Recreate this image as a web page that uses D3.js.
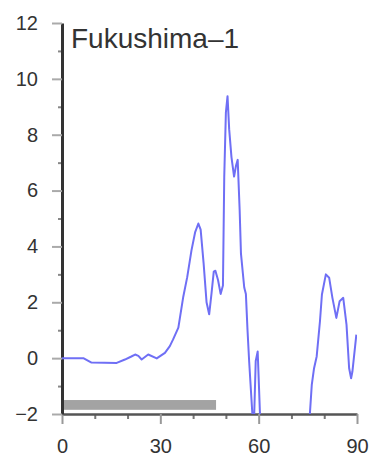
<!DOCTYPE html>
<html>
<head>
<meta charset="utf-8">
<script src="https://cdn.jsdelivr.net/npm/d3@7"></script>
<style>
body { margin: 0; background: #fff; }
svg { font-family: "Liberation Sans", Arial, sans-serif; }
</style>
</head>
<body>
<script>
var w = 372;
var h = 457;

var title = "Fukushima\u20131";

// day, value (null = gap in the record)
var days = [0, 6.5, 9, 16.7, 19.2, 21, 22.3, 23.3, 24.3, 26.3, 28.9, 31.4, 32.9, 33.9,
    35.5, 37, 38.2, 39.5, 40.6, 41.6, 42.3, 43.2, 44.1, 44.9, 45.6, 46.3, 46.8, 47.6,
    48.4, 49.1, 49.5, 50, 50.5, 51, 51.7, 52.5, 53.1, 53.6, 54.2, 54.6, 55.6, 56.1,
    56.6, 57.1, 58.1, 58.5, 59.1, 59.7, 60.4, 60.8, 68,
    75.3, 75.6, 76.2, 76.9, 77.7, 78.7, 79.3, 80.5, 81.5, 82.5, 83.7, 84.7, 85.8,
    86.8, 87.6, 88.2, 88.6, 89.8];
var values = [0, 0, -0.16, -0.17, -0.05, 0.05, 0.13, 0.08, -0.05, 0.13, -0.01, 0.19, 0.43, 0.67,
    1.09, 2.2, 2.9, 3.86, 4.5, 4.82, 4.6, 3.4, 2.0, 1.57, 2.3, 3.1, 3.13, 2.8,
    2.3, 2.6, 6.5, 8.8, 9.38, 8.2, 7.2, 6.5, 6.9, 7.1, 5.3, 3.74, 2.53, 2.3,
    1.0, -0.12, -2.04, -2.6, -0.1, 0.24, -2.0, -2.6, null,
    -2.6, -2.04, -0.96, -0.36, 0.06, 1.32, 2.28, 3.0, 2.88, 2.16, 1.44, 2.04, 2.16,
    1.2, -0.36, -0.72, -0.48, 0.84];

// shaded period near the bottom: [startDay, endDay, low, high]
var period = [0, 47, -1.85, -1.5];

var xTicks = [0, 30, 60, 90];
var xMinor = [10, 20, 40, 50, 70, 80];
var yTicks = [-2, 0, 2, 4, 6, 8, 10, 12];
var yMinor = [-1, 1, 3, 5, 7, 9, 11];

var x = d3.scaleLinear().domain([0, 90]).range([62, 357]);
var y = d3.scaleLinear().domain([-2, 12]).range([414, 23]);

var svg = d3.select("body")
    .append("svg")
    .attr("width", w)
    .attr("height", h);

svg.append("defs").append("clipPath")
    .attr("id", "plot")
    .append("rect")
    .attr("x", x(0))
    .attr("y", y(12))
    .attr("width", x(90) - x(0))
    .attr("height", y(-2) - y(12));

svg.append("rect")
    .attr("x", x(period[0]))
    .attr("y", y(period[3]))
    .attr("width", x(period[1]) - x(period[0]))
    .attr("height", y(period[2]) - y(period[3]))
    .attr("fill", "#a3a3a3");

// minor ticks
svg.append("g")
    .attr("transform", "translate(" + x(0) + ",0)")
    .call(d3.axisLeft(y).tickValues(yMinor).tickSize(4).tickFormat(""))
    .call(function(g){ g.select(".domain").remove(); })
    .selectAll("line").attr("stroke", "#888").attr("stroke-width", 2);

svg.append("g")
    .attr("transform", "translate(0," + y(-2) + ")")
    .call(d3.axisBottom(x).tickValues(xMinor).tickSize(5).tickFormat(""))
    .call(function(g){ g.select(".domain").remove(); })
    .selectAll("line").attr("stroke", "#777").attr("stroke-width", 2);

var xAxis = svg.append("g")
    .attr("transform", "translate(0," + y(-2) + ")")
    .call(d3.axisBottom(x).tickValues(xTicks).tickSize(10).tickSizeOuter(0).tickPadding(15));
xAxis.select(".domain").attr("stroke", "#555").attr("stroke-width", 2.5);
xAxis.selectAll("line").attr("stroke", "#999").attr("stroke-width", 2);
xAxis.selectAll("text").attr("font-size", 20).attr("fill", "#333")
    .attr("font-family", "Liberation Sans, Arial, sans-serif");

var yAxis = svg.append("g")
    .attr("transform", "translate(" + x(0) + ",0)")
    .call(d3.axisLeft(y).tickValues(yTicks).tickSize(10).tickSizeOuter(0).tickPadding(14));
yAxis.select(".domain").attr("stroke", "#333").attr("stroke-width", 3);
yAxis.selectAll("line").attr("stroke", "#aaa").attr("stroke-width", 2);
yAxis.selectAll("text").attr("font-size", 20).attr("fill", "#333")
    .attr("font-family", "Liberation Sans, Arial, sans-serif");

var line = d3.line()
    .defined(function(d){ return d[1] !== null; })
    .x(function(d){ return x(d[0]); })
    .y(function(d){ return y(d[1]); });

svg.append("path")
    .datum(days.map(function(d, i){ return [d, values[i]]; }))
    .attr("clip-path", "url(#plot)")
    .attr("fill", "none")
    .attr("stroke", "#6f6ff5")
    .attr("stroke-width", 2)
    .attr("stroke-linejoin", "round")
    .attr("d", line);

svg.append("text")
    .attr("x", 71)
    .attr("y", 48)
    .attr("font-size", 28)
    .attr("fill", "#333")
    .text(title);
</script>
</body>
</html>
